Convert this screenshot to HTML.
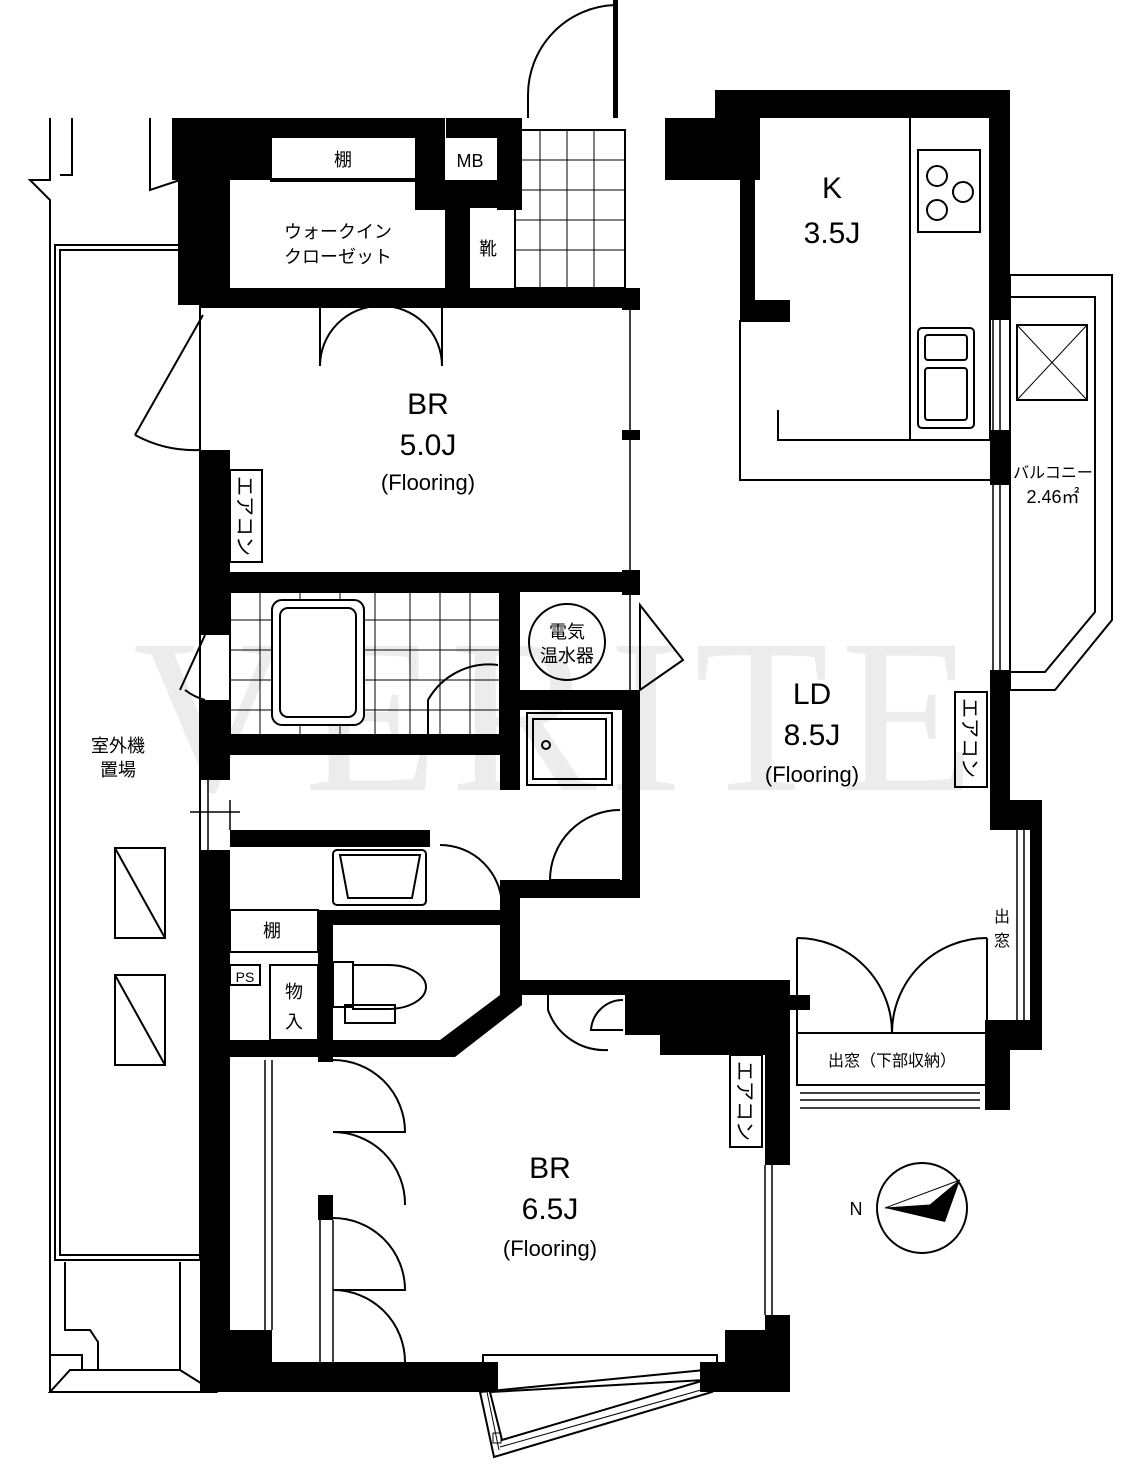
<!DOCTYPE html>
<html><head><meta charset="utf-8"><style>
html,body{margin:0;padding:0;background:#fff;overflow:hidden}
svg{display:block}
text{font-family:"Liberation Sans","Noto Sans CJK JP",sans-serif;fill:#000}
</style></head><body>
<svg width="1144" height="1471" viewBox="0 0 1144 1471" xmlns="http://www.w3.org/2000/svg">
<!-- watermark -->
<text x="560" y="790" font-size="220" style="fill:#ececec;font-family:'Liberation Serif',serif" text-anchor="middle" letter-spacing="12">VERITE</text>

<g fill="none" stroke="#000" stroke-width="2">
<!-- left outdoor unit area -->
<polyline points="50,118 50,180 30,180 50,200 50,1392"/>
<polyline points="72,118 72,175 60,175"/>
<polyline points="150,118 150,190 180,180 200,180"/>
<rect x="55" y="245" width="145" height="1015"/>
<rect x="60" y="250" width="140" height="1005"/>
<polyline points="65,1262 65,1330 90,1330 98,1342 98,1370"/>
<polyline points="50,1355 82,1355 82,1370"/>
<polygon points="50,1392 215,1392 180,1370 70,1370"/>
<line x1="180" y1="1262" x2="180" y2="1370"/>
<rect x="115" y="848" width="50" height="90"/><line x1="115" y1="848" x2="165" y2="938"/>
<rect x="115" y="975" width="50" height="90"/><line x1="115" y1="975" x2="165" y2="1065"/>
<!-- top door -->
<path d="M615,5 A90,90 0 0 0 528,95"/>
<line x1="528" y1="95" x2="528" y2="118"/>
<!-- tiles -->
<rect x="515" y="130" width="110" height="158"/>
<path d="M540,130v158M567,130v158M594,130v158M515,160h110M515,190h110M515,220h110M515,250h110" stroke-width="1"/>
<rect x="230" y="592" width="270" height="143"/>
<path d="M230,620h270M230,650h270M230,680h270M230,710h270M260,592v143M300,592v143M340,592v143M375,592v143M410,592v143M440,592v143M470,592v143" stroke-width="1"/>
<rect x="272" y="600" width="92" height="125" rx="10" fill="#fff"/>
<rect x="280" y="608" width="76" height="109" rx="8"/>
<path d="M428,735 L428,700 A70,70 0 0 1 498,665"/>
<circle cx="567" cy="642" r="38"/>
<polyline points="640,642 640,605 683,660 640,690 640,642"/>
<rect x="527" y="713" width="85" height="72"/>
<rect x="533" y="719" width="73" height="60"/>
<circle cx="546" cy="745" r="4"/>
<rect x="333" y="850" width="93" height="55" rx="4"/>
<path d="M340,855 h80 l-8,43 h-64 z"/>
<rect x="333" y="962" width="20" height="45"/>
<path d="M353,965 h35 a38,22 0 0 1 0,44 h-35 z"/>
<rect x="345" y="1005" width="50" height="18"/>
<path d="M620,810 A70,70 0 0 0 550,880 h70"/>
<path d="M440,845 A62,62 0 0 1 502,907"/>
<path d="M320,306 v60 A60,60 0 0 1 380,306"/>
<path d="M442,306 v60 A60,60 0 0 0 382,306"/>
<path d="M548,995 v15 A60,60 0 0 0 608,1050"/>
<path d="M623,1000 A32,32 0 0 0 591,1030 h32"/>
<path d="M797,938 v95 M797,938 A95,95 0 0 1 892,1033"/>
<path d="M987,938 v95 M987,938 A95,95 0 0 0 892,1033"/>
<rect x="797" y="1033" width="190" height="52"/>
<path d="M800,1093 h180 M800,1100 h180 M800,1108 h180" stroke-width="1.5"/>
<!-- BR6.5 closets -->
<path d="M333,1060 A72,72 0 0 1 405,1132 h-72 A72,72 0 0 1 405,1205"/>
<path d="M333,1218 A72,72 0 0 1 405,1290 h-72 A72,72 0 0 1 405,1362"/>
<path d="M265,1060 V1330 M272,1060 V1330" stroke-width="1.5"/>
<path d="M320,1220 V1362 M333,1220 V1362" stroke-width="1.5"/>
<!-- bay bottom -->
<polyline points="483,1362 483,1355 717,1355 717,1362"/>
<polygon points="480,1392 494,1457 712,1392 705,1370"/>
<polygon points="490,1392 502,1440 705,1380"/>
<path d="M487,1392 L499,1450 M500,1447 L708,1388" stroke-width="1"/>
<rect x="493" y="1433" width="8" height="10" stroke-width="1"/>
<!-- left wall window/door -->
<path d="M203,315 L135,435 M135,435 A125,125 0 0 0 200,450" />
<path d="M205,635 L180,690 M185,690 A60,60 0 0 0 205,700"/>
<path d="M200,780 v70 M208,780 v70 M190,812 h50 M230,800 v30" stroke-width="1.5"/>
<path d="M993,320 v120 M1000,320 v120 M993,480 v190 M1000,480 v190 M765,1165 v150 M772,1165 v150 M1017,830 v190 M1024,830 v190 M630,310 v120 M630,440 v130 M630,595 v95" stroke-width="1.5"/>
<!-- K counter -->
<polyline points="740,320 740,480 990,480"/>
<polyline points="778,410 778,440 990,440"/>
<rect x="910" y="115" width="80" height="325"/>
<rect x="918" y="150" width="62" height="82"/>
<circle cx="937" cy="176" r="10"/><circle cx="963" cy="192" r="10"/><circle cx="937" cy="210" r="10"/>
<rect x="918" y="328" width="56" height="100" rx="4"/>
<rect x="925" y="335" width="42" height="25" rx="3"/>
<rect x="925" y="368" width="42" height="52" rx="3"/>
<!-- balcony -->
<polygon points="1010,275 1112,275 1112,620 1055,690 1010,690"/>
<polygon points="1010,297 1095,297 1095,612 1045,672 1010,672"/>
<rect x="1017" y="325" width="70" height="75"/><path d="M1017,325 L1087,400 M1087,325 L1017,400" stroke-width="1"/>
<rect x="230" y="470" width="32" height="92"/>
<rect x="955" y="692" width="32" height="95"/>
<rect x="730" y="1055" width="32" height="92"/>
<rect x="230" y="965" width="30" height="20"/>
<rect x="270" y="965" width="48" height="75"/>
<rect x="230" y="910" width="88" height="42"/>
<circle cx="922" cy="1208" r="45"/>
</g>
<polygon points="885,1208 960,1180 945,1222" fill="#000"/>
<polygon points="885,1208 960,1180 930,1205" fill="#fff" stroke="#000" stroke-width="1"/>

<!-- walls -->
<g fill="#000">
<rect x="172" y="118" width="100" height="62"/>
<rect x="200" y="118" width="30" height="190"/>
<rect x="178" y="180" width="22" height="125"/>
<rect x="415" y="118" width="30" height="92"/>
<rect x="497" y="118" width="25" height="92"/>
<rect x="443" y="180" width="70" height="28"/>
<rect x="445" y="180" width="25" height="110"/>
<rect x="270" y="118" width="145" height="20"/>
<rect x="270" y="178" width="145" height="4"/>
<rect x="446" y="118" width="52" height="20"/>
<rect x="613" y="0" width="5" height="118"/>
<rect x="200" y="288" width="440" height="20"/>
<rect x="200" y="450" width="30" height="185"/>
<rect x="200" y="700" width="30" height="80"/>
<rect x="200" y="850" width="30" height="542"/>
<rect x="200" y="572" width="440" height="20"/>
<rect x="622" y="288" width="18" height="22"/>
<rect x="622" y="430" width="18" height="10"/>
<rect x="622" y="570" width="18" height="25"/>
<rect x="622" y="690" width="18" height="190"/>
<rect x="500" y="592" width="20" height="198"/>
<rect x="520" y="690" width="105" height="20"/>
<rect x="230" y="735" width="270" height="20"/>
<rect x="230" y="830" width="200" height="17"/>
<rect x="505" y="880" width="135" height="18"/>
<rect x="500" y="880" width="20" height="115"/>
<rect x="318" y="910" width="15" height="140"/>
<rect x="318" y="910" width="182" height="15"/>
<rect x="200" y="1040" width="245" height="17"/>
<polygon points="440,1040 500,995 522,995 522,1005 455,1057 440,1057"/>
<rect x="520" y="980" width="270" height="15"/>
<rect x="625" y="995" width="140" height="40"/>
<rect x="660" y="1035" width="105" height="20"/>
<rect x="765" y="995" width="25" height="170"/>
<rect x="765" y="1315" width="25" height="77"/>
<polygon points="725,1330 790,1330 790,1375 775,1392 725,1392"/>
<rect x="230" y="1330" width="42" height="32"/>
<rect x="200" y="1362" width="298" height="30"/>
<rect x="700" y="1362" width="30" height="30"/>
<rect x="318" y="1195" width="15" height="25"/>
<rect x="318" y="1050" width="15" height="12"/>
<rect x="665" y="118" width="95" height="62"/>
<rect x="715" y="90" width="295" height="28"/>
<rect x="740" y="300" width="50" height="22"/>
<rect x="740" y="115" width="15" height="205"/>
<rect x="990" y="90" width="20" height="230"/>
<rect x="990" y="430" width="20" height="55"/>
<rect x="990" y="670" width="20" height="160"/>
<rect x="990" y="800" width="50" height="30"/>
<rect x="1030" y="800" width="12" height="250"/>
<rect x="985" y="1020" width="57" height="30"/>
<rect x="985" y="1030" width="25" height="80"/>
<rect x="790" y="995" width="20" height="15"/>
</g>

<g font-size="18">
<text x="343" y="166" text-anchor="middle">棚</text>
<text x="470" y="167" text-anchor="middle">MB</text>
<text x="338" y="238" text-anchor="middle">ウォークイン</text>
<text x="338" y="263" text-anchor="middle">クローゼット</text>
<text x="488" y="255" text-anchor="middle">靴</text>
<text x="567" y="638" text-anchor="middle">電気</text>
<text x="567" y="662" text-anchor="middle">温水器</text>
<text x="118" y="752" text-anchor="middle">室外機</text>
<text x="118" y="776" text-anchor="middle">置場</text>
<text x="272" y="937" text-anchor="middle">棚</text>
<text x="294" y="998" text-anchor="middle">物</text>
<text x="294" y="1028" text-anchor="middle">入</text>
<text x="645" y="1024" text-anchor="middle" font-size="16">物入</text>
<text x="892" y="1066" text-anchor="middle" font-size="16">出窓（下部収納）</text>
<text x="1002" y="922" text-anchor="middle" font-size="16">出</text>
<text x="1002" y="946" text-anchor="middle" font-size="16">窓</text>
<text x="1053" y="478" text-anchor="middle" font-size="16">バルコニー</text>
<text x="1053" y="503" text-anchor="middle">2.46㎡</text>
<text x="856" y="1215" text-anchor="middle">N</text>
<text x="245" y="982" font-size="14" text-anchor="middle">PS</text>
</g>
<g font-size="20">
<text transform="translate(238,476) rotate(90)">エアコン</text>
<text transform="translate(963,698) rotate(90)">エアコン</text>
<text transform="translate(738,1061) rotate(90)">エアコン</text>
</g>
<g text-anchor="middle">
<text x="832" y="198" font-size="30">K</text>
<text x="832" y="243" font-size="30">3.5J</text>
<text x="428" y="414" font-size="30">BR</text>
<text x="428" y="455" font-size="30">5.0J</text>
<text x="428" y="490" font-size="22">(Flooring)</text>
<text x="812" y="704" font-size="30">LD</text>
<text x="812" y="745" font-size="30">8.5J</text>
<text x="812" y="782" font-size="22">(Flooring)</text>
<text x="550" y="1178" font-size="30">BR</text>
<text x="550" y="1219" font-size="30">6.5J</text>
<text x="550" y="1256" font-size="22">(Flooring)</text>
</g>
</svg>
</body></html>
